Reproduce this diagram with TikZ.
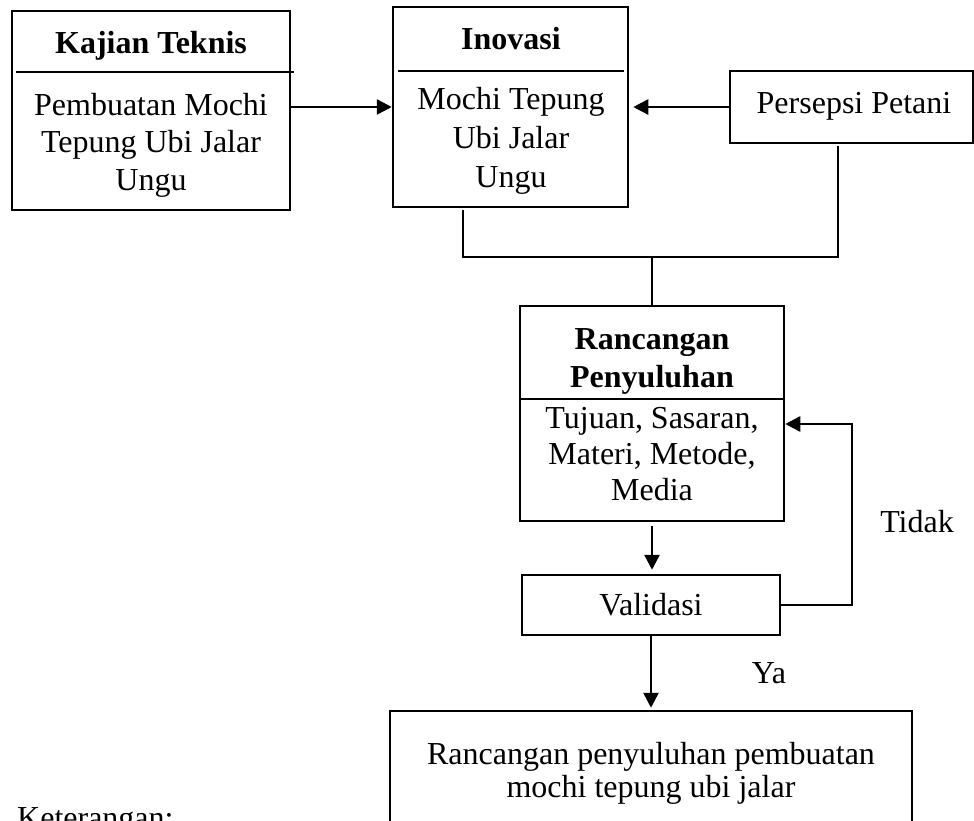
\documentclass[tikz,border=0pt]{standalone}
\usepackage{fontspec}
\setmainfont{Liberation Serif}
\usetikzlibrary{arrows.meta}
\newcommand\dfont{\fontsize{32}{38}\selectfont}
\begin{document}
\begin{tikzpicture}[x=1pt,y=-1pt,
  box/.style={draw,line width=2.5pt,inner sep=0pt},
  lbl/.style={inner sep=0pt,font=\dfont},
  ln/.style={line width=2.5pt},
  arr/.style={line width=2.5pt,-{Triangle[length=15pt,width=15pt]}}]
\useasboundingbox (0,0) rectangle (974,820);
% Kajian Teknis
\node[box,minimum width=278pt,minimum height=199pt] (kaj) at (151,110.5) {};
\draw[ln] (16,72) -- (294,72);
\node[lbl,font=\bfseries\dfont,anchor=base] (kajt) at (151,53) {Kajian Teknis};
\node[lbl,align=center,anchor=north,font={\fontsize{32}{37.5}\selectfont}] (kajb) at (151,88.75) {\strut Pembuatan Mochi\\Tepung Ubi Jalar\\Ungu};
% Inovasi
\node[box,minimum width=235pt,minimum height=200pt] (ino) at (510.5,107) {};
\draw[ln] (398,71) -- (624,71);
\node[lbl,font=\bfseries\dfont,anchor=base] (inot) at (511,49) {Inovasi};
\node[lbl,align=center,anchor=north,font={\fontsize{32}{39}\selectfont}] (inob) at (511,81.7) {\strut Mochi Tepung\\Ubi Jalar\\Ungu};
% Persepsi Petani
\node[box,minimum width=243pt,minimum height=72pt] (per) at (851.5,107) {};
\node[lbl,anchor=base] (pert) at (854,113) {Persepsi Petani};
% Rancangan Penyuluhan
\node[box,minimum width=264pt,minimum height=215pt] (ran) at (652,413.5) {};
\draw[ln] (520,399) -- (784,399);
\node[lbl,align=center,anchor=north,font={\bfseries\fontsize{32}{38}\selectfont}] (rant) at (652,322.4) {\strut Rancangan\\Penyuluhan};
\node[lbl,align=center,anchor=north,font={\fontsize{32}{36}\selectfont}] (ranb) at (652,402.8) {\strut Tujuan, Sasaran,\\Materi, Metode,\\Media};
% Validasi
\node[box,minimum width=258pt,minimum height=60pt] (val) at (651,605) {};
\node[lbl,anchor=base] (valt) at (651,615) {Validasi};
% Final
\node[box,minimum width=522pt,minimum height=150pt] (fin) at (651,786) {};
\node[lbl,align=center,anchor=north,font={\fontsize{32}{33}\selectfont}] (fint) at (651,740.9) {\strut Rancangan penyuluhan pembuatan\\mochi tepung ubi jalar};
% Keterangan
\node[lbl,anchor=base west] (ket) at (17,828) {Keterangan:};
% connectors
\draw[arr] (kaj.east |- ino.west) -- (ino.west);
\draw[arr,shorten >=4pt] (per.west) -- (ino.east);
\coordinate (c1) at (463,257);
\coordinate (c2) at (838,257);
\coordinate (j) at (652,257);
\draw[ln,shorten <=2pt,shorten >=2pt] (ino.south -| c1) -- (c1) -- (c2) -- (per.south -| c2);
\draw[ln] (j) -- (ran.north);
\draw[arr,shorten <=4pt,shorten >=4pt] (ran.south) -- (ran.south |- val.north);
\draw[arr,shorten >=2pt] (val.south) -- (fin.north);
\node[lbl,anchor=base] (ya) at (769,683) {Ya};
\coordinate (lp) at (852,424);
\draw[arr] (val.east) -| (lp) -- (ran.east |- lp);
\node[lbl,anchor=base] (tidak) at (917,532) {Tidak};
\end{tikzpicture}
\end{document}
